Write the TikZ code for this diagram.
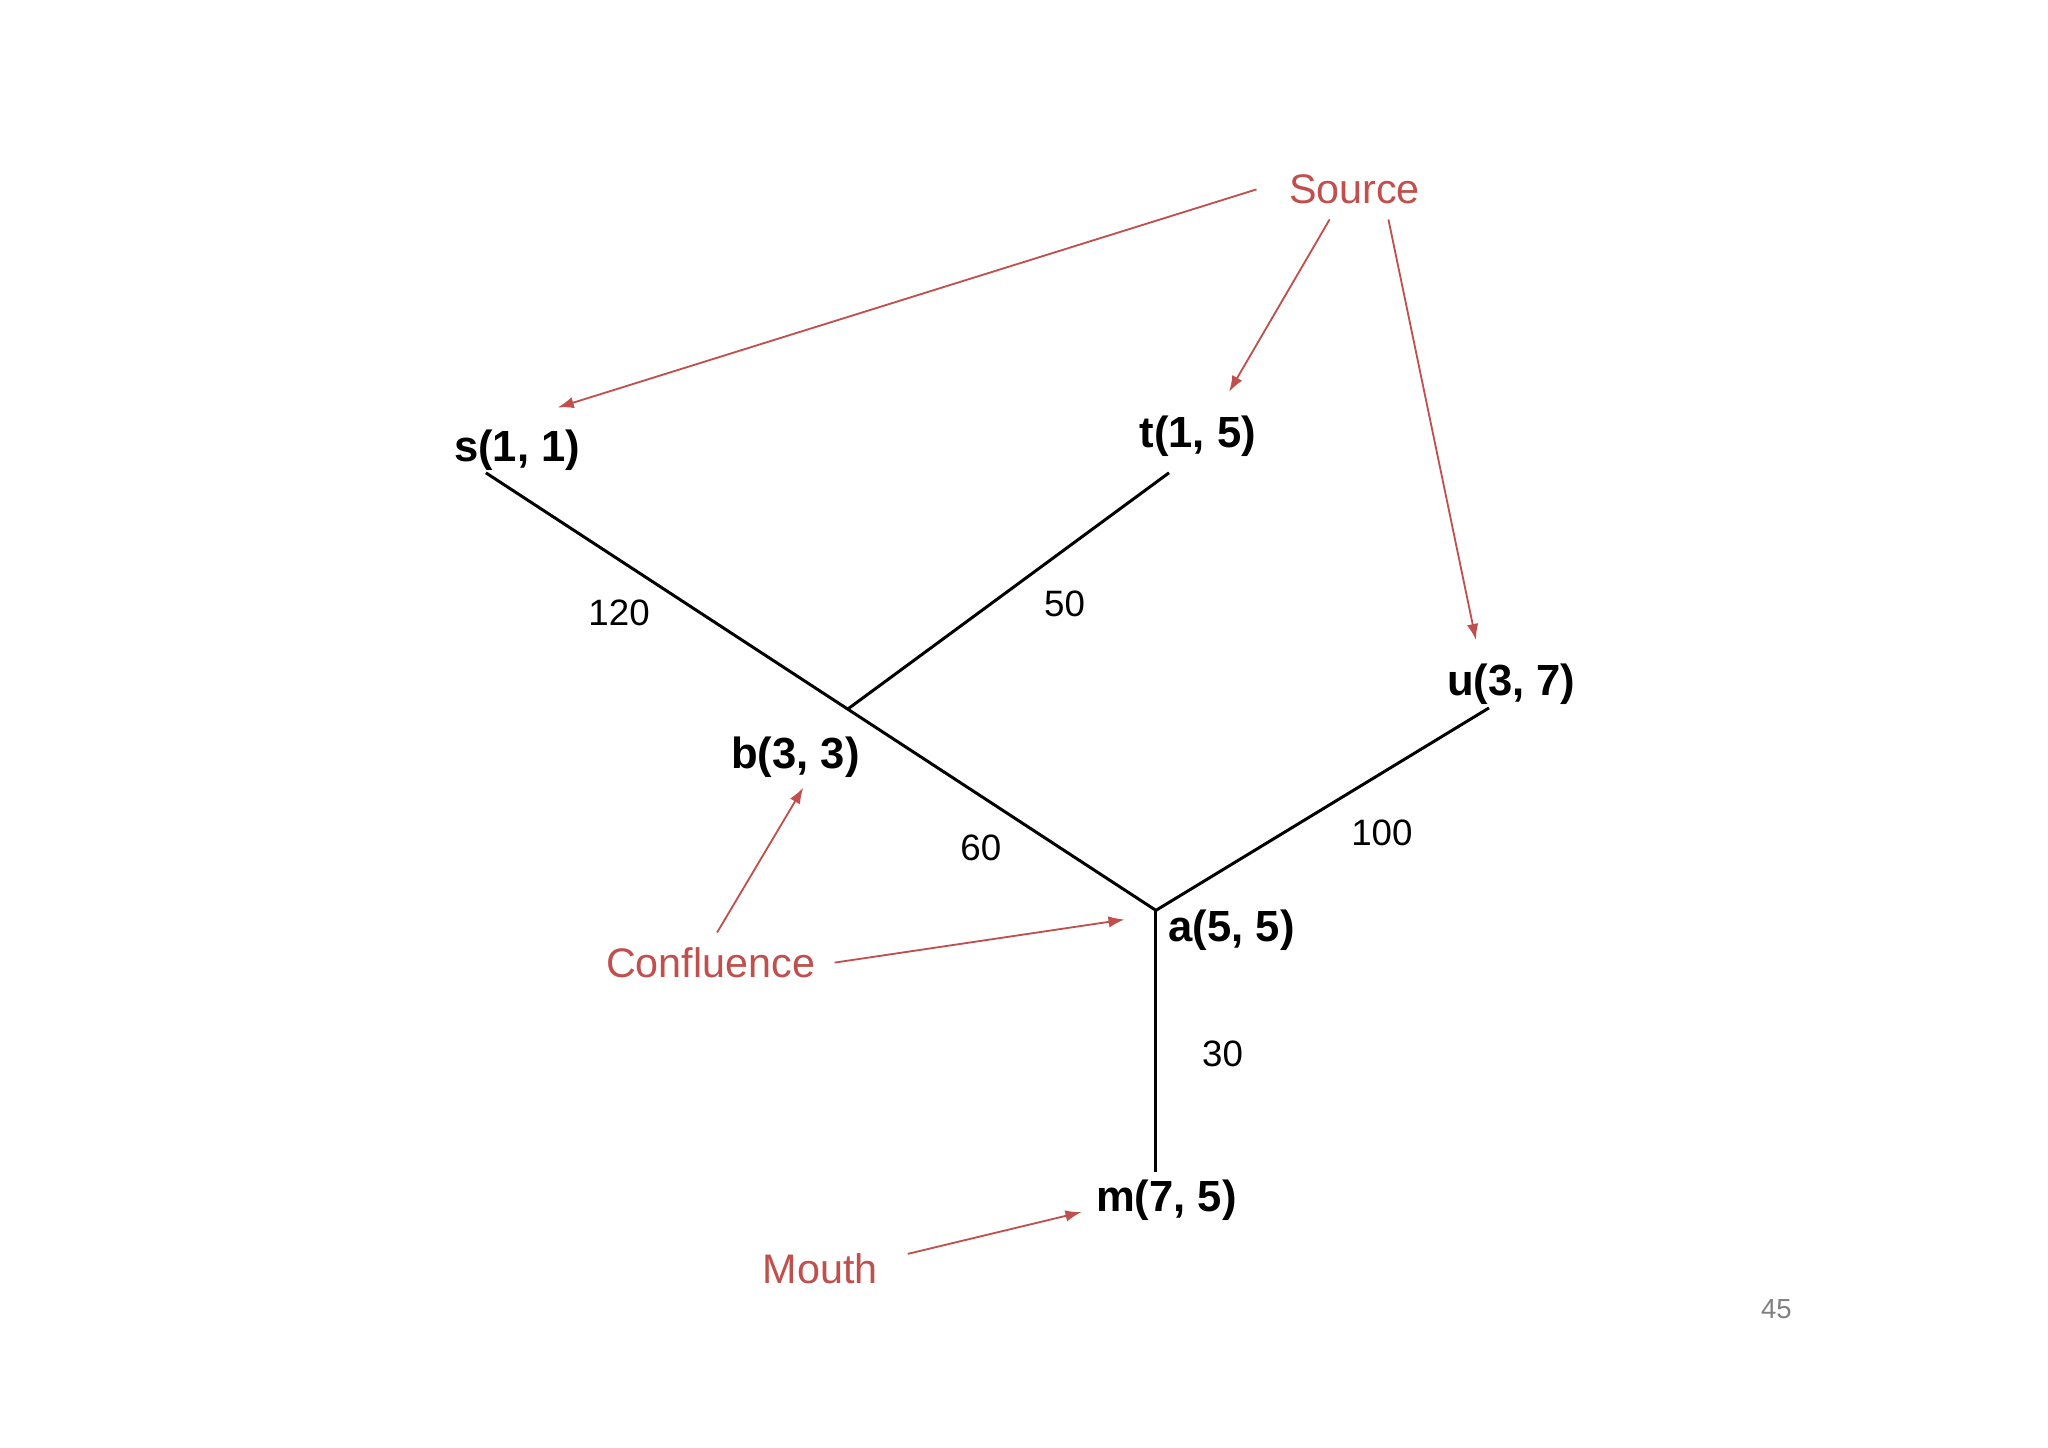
\documentclass[tikz,border=0pt]{standalone}
\usepackage{fontspec}
\setmainfont{Liberation Sans}
\usetikzlibrary{arrows.meta,calc}
\definecolor{rd}{RGB}{192,80,77}
\begin{document}
\begin{tikzpicture}[x=0.02cm,y=-0.02cm,
  lab/.style={font=\fontsize{19}{22}\selectfont\bfseries, inner sep=0pt},
  wt/.style={font=\fontsize{16}{19}\selectfont, inner sep=0pt},
  ann/.style={font=\fontsize{18}{21}\selectfont, text=rd, inner sep=0pt},
  edge/.style={line width=1.3pt},
  arr/.style={rd, line width=0.8pt, -{Latex[length=7pt,width=5pt]}}]
\useasboundingbox (0,0) rectangle (1568,1108);
\coordinate (s0) at (372,362);
\coordinate (t0) at (895,362);
\coordinate (u0) at (1140,542);
\coordinate (a0) at (885,697);
\coordinate (m0) at (885,897);
\coordinate (b0) at ($(s0)!0.54!(a0)$);
\node[lab] (s) at (396,345) {s(1, 1)};
\node[lab] (t) at (917,334) {t(1, 5)};
\node[lab] (u) at (1157,524) {u(3, 7)};
\node[lab] (b) at (609,580) {b(3, 3)};
\node[lab] (a) at (943,712) {a(5, 5)};
\node[lab] (m) at (893,919) {m(7, 5)};
\draw[edge] (s0) -- (a0);
\draw[edge] (t0) -- (b0);
\draw[edge] (u0) -- (a0);
\draw[edge] (a0) -- (m0);
\node[wt] (w1) at (474,469) {120};
\node[wt] (w2) at (815,462) {50};
\node[wt] (w3) at (1058,638) {100};
\node[wt] (w4) at (751,649) {60};
\node[wt] (w5) at (936,807) {30};
\node[ann] (src) at (1037,145) {Source};
\node[ann] (con) at (544,737) {Confluence};
\node[ann] (mou) at (628,971) {Mouth};
\coordinate (sa) at (427,312);
\coordinate (ta) at (941,300);
\coordinate (ua) at (1130,490);
\coordinate (ba) at (615,603);
\coordinate (aa) at (861,704);
\coordinate (ma) at (828,928);
\draw[arr] (962,145) -- (sa);
\draw[arr] (1018,168) -- (ta);
\draw[arr] (1063,168) -- (ua);
\draw[arr] (549,714) -- (ba);
\draw[arr] (639,737) -- (aa);
\draw[arr] (695,960) -- (ma);
\node[font=\fontsize{12}{14}\selectfont, text=gray] (pg) at (1360,1002) {45};
\end{tikzpicture}
\end{document}
